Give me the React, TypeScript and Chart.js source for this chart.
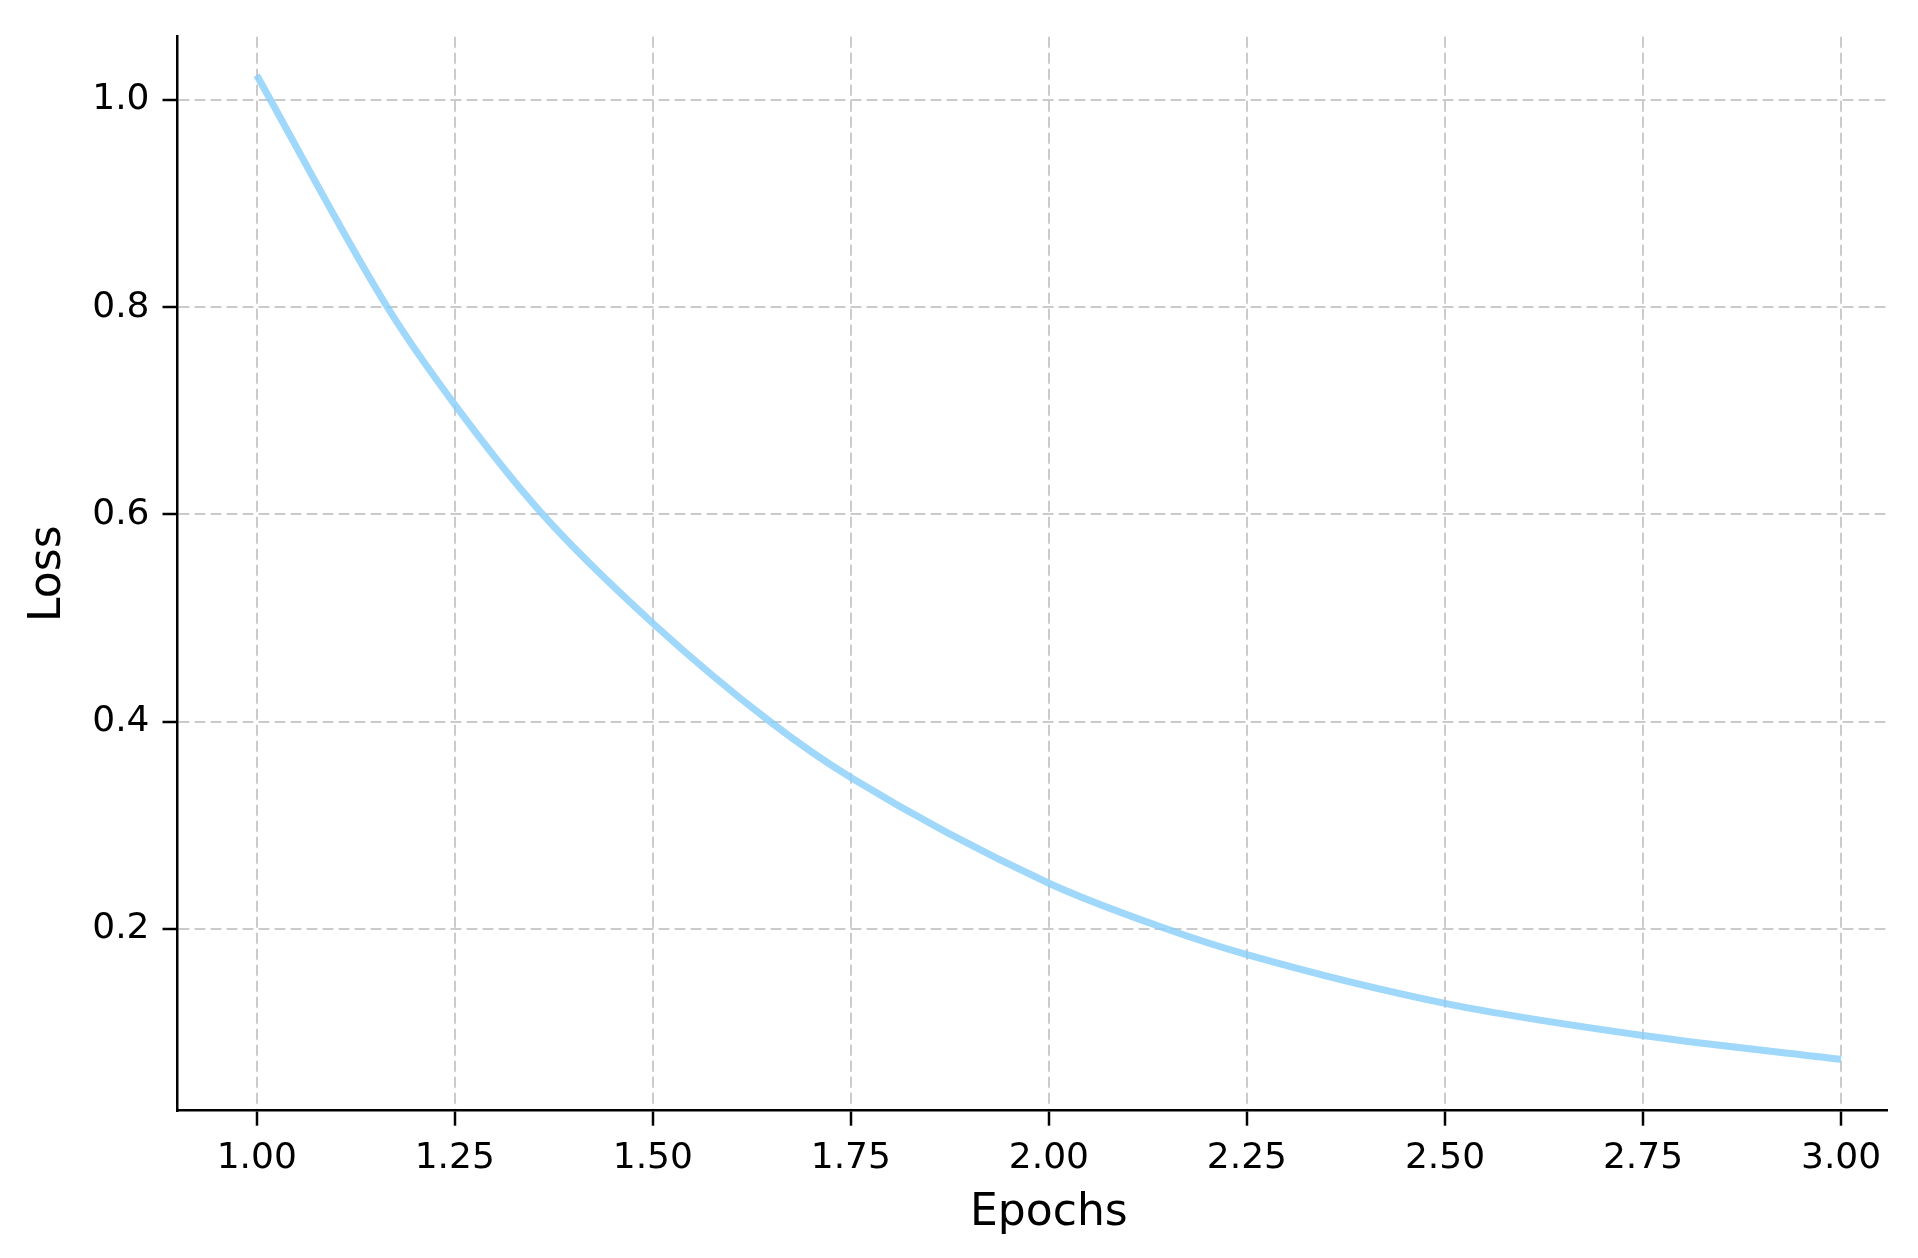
import React, { useEffect, useRef } from "react";
import { Chart, registerables } from "chart.js";

Chart.register(...registerables);

// Values
const epochs = [1.0, 1.165, 1.25, 1.361, 1.5, 1.648, 1.75, 2.0, 2.148, 2.25, 2.5, 2.75, 3.0];
const loss = [1.024, 0.8, 0.706, 0.6, 0.495, 0.4, 0.346, 0.244, 0.2, 0.175, 0.128, 0.097, 0.074];

const xTicks = [1.0, 1.25, 1.5, 1.75, 2.0, 2.25, 2.5, 2.75, 3.0];
const yTicks = [0.2, 0.4, 0.6, 0.8, 1.0];

const xTitle = "Epochs";
const yTitle = "Loss";

const W = 1918;
const H = 1258;
const FONT = "'DejaVu Sans', 'Liberation Sans', sans-serif";

const xTitlePlugin = {
  id: "xTitlePlugin",
  afterDraw(chart: any) {
    const ctx = chart.ctx;
    const xs = chart.scales.x;
    ctx.save();
    ctx.font = `44px ${FONT}`;
    ctx.fillStyle = "#000000";
    ctx.textAlign = "center";
    ctx.textBaseline = "alphabetic";
    // matplotlib centers the label on the full axes span (0.9..3.1), i.e. at x = 2.0
    ctx.fillText(xTitle, xs.getPixelForValue((0.9 + 3.1) / 2), 1225);
    ctx.restore();
  },
};

export default function App() {
  const ref = useRef<HTMLCanvasElement | null>(null);

  useEffect(() => {
    document.body.style.margin = "0";
    const canvas = ref.current;
    if (!canvas) return;
    const chart = new Chart(canvas, {
      type: "line",
      data: {
        datasets: [
          {
            data: epochs.map((e, i) => ({ x: e, y: loss[i] })),
            borderColor: "rgba(135,206,250,0.8)",
            borderWidth: 7,
            pointRadius: 0,
            pointHoverRadius: 0,
            fill: false,
            cubicInterpolationMode: "monotone",
            borderCapStyle: "butt",
          },
        ],
      },
      plugins: [xTitlePlugin],
      options: {
        responsive: false,
        animation: false,
        devicePixelRatio: 1,
        events: [],
        layout: { padding: { top: 36.7, right: 31, left: 0, bottom: 0 } },
        plugins: {
          legend: { display: false },
          tooltip: { enabled: false },
          title: { display: false },
        },
        scales: {
          x: {
            type: "linear",
            min: 0.9,
            max: 3.058,
            afterBuildTicks: (axis: any) => {
              axis.ticks = xTicks.map((v) => ({ value: v }));
            },
            afterFit: (axis: any) => {
              axis.height = H - 1110.7;
            },
            grid: {
              color: "#cbcbcb",
              lineWidth: 2,
              drawTicks: true,
              tickLength: 15,
              tickColor: "#000000",
              tickWidth: 2.5,
            },
            border: { display: true, color: "#000000", width: 2.5, dash: [11, 5] },
            ticks: {
              color: "#000000",
              padding: 11,
              maxRotation: 0,
              autoSkip: false,
              font: { family: FONT, size: 36 },
              callback: (v: any) => Number(v).toFixed(2),
            },
            title: { display: false },
          },
          y: {
            type: "linear",
            min: 0.0244,
            max: 1.0612,
            afterBuildTicks: (axis: any) => {
              axis.ticks = yTicks.map((v) => ({ value: v }));
            },
            afterFit: (axis: any) => {
              axis.width = 177.5;
            },
            grid: {
              color: "#cbcbcb",
              lineWidth: 2,
              drawTicks: true,
              tickLength: 15,
              tickColor: "#000000",
              tickWidth: 2.5,
            },
            border: { display: true, color: "#000000", width: 2.5, dash: [11, 5] },
            ticks: {
              color: "#000000",
              padding: 13,
              autoSkip: false,
              font: { family: FONT, size: 36 },
              callback: (v: any) => Number(v).toFixed(1),
            },
            title: {
              display: true,
              text: yTitle,
              color: "#000000",
              font: { family: FONT, size: 44 },
              padding: { top: 21.7, bottom: 0 },
            },
          },
        },
      },
    });
    return () => chart.destroy();
  }, []);

  return (
    <div style={{ position: "fixed", left: 0, top: 0, width: W, height: H, background: "#ffffff" }}>
      <canvas ref={ref} width={W} height={H} style={{ width: W, height: H, display: "block" }} />
    </div>
  );
}
